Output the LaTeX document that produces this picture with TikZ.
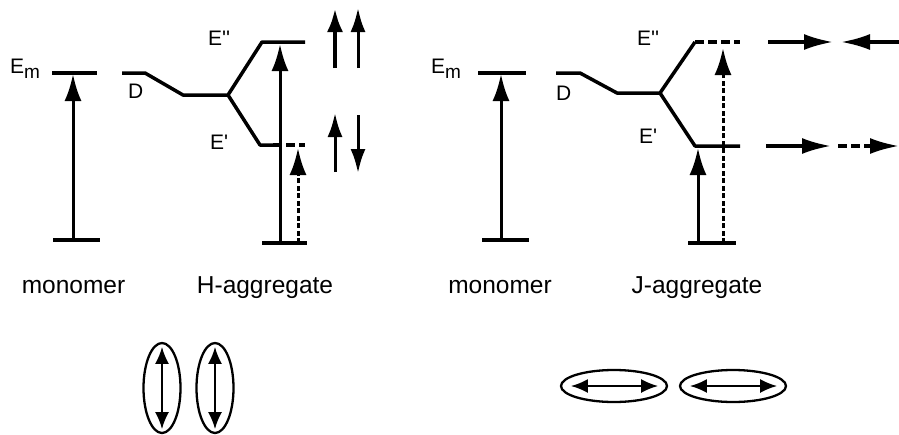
\documentclass[tikz,border=0pt]{standalone}
\usepackage{fontspec}
\setmainfont{Liberation Sans}
\usetikzlibrary{arrows.meta,shapes.geometric}
\begin{document}
\begin{tikzpicture}[x=1pt,y=-1pt,
  level/.style={line width=3.5pt},
  splitline/.style={line width=3.5pt,line join=round},
  dlevel/.style={line width=3.5pt,dash pattern=on 9pt off 4pt},
  trans/.style={line width=3pt,-{Latex[length=27pt,width=17pt]}},
  dtrans/.style={trans,dash pattern=on 5pt off 2.5pt},
  spinthick/.style={line width=4.5pt,-{Latex[length=24pt,width=16pt]}},
  spinthin/.style={line width=3pt,-{Latex[length=24pt,width=15pt]}},
  harrow/.style={line width=3.2pt,-{Latex[length=29pt,width=16pt]}},
  dharrow/.style={harrow,dash pattern=on 9pt off 4pt},
  lbl/.style={inner sep=0pt,anchor=base west,font=\fontsize{21}{21}\selectfont},
  caption/.style={inner sep=0pt,anchor=base,font=\fontsize{24.5}{24.5}\selectfont},
  dipole/.style={draw,ellipse,line width=2.3pt,inner sep=0pt},
  dip/.style={line width=2.2pt,{Latex[length=17pt,width=14pt]}-{Latex[length=17pt,width=14pt]}}
]
\useasboundingbox (0,0) rectangle (899,434);

% ---------------- H panel -----------------
\coordinate (mA1) at (52,73);  \coordinate (mA2) at (97,73);
\coordinate (gA1) at (53,240); \coordinate (gA2) at (100,240);
\coordinate (aA0) at (73,240); \coordinate (aA1) at (73,74);
\draw[level] (mA1) -- (mA2);
\draw[level] (gA1) -- (gA2);
\draw[trans] (aA0) -- (aA1);
\node[lbl] (EmA) at (10,73) {E\raisebox{-5pt}{\fontsize{19}{19}\selectfont m}};
\node[lbl] (DA) at (128,98) {D};
\coordinate (dA0) at (122,73); \coordinate (dA1) at (145,73);
\coordinate (dA2) at (183,95); \coordinate (dA3) at (228,95);
\coordinate (uA1) at (262,42); \coordinate (uA2) at (305,42);
\coordinate (lA1) at (260,145); \coordinate (lA2) at (273,145); \coordinate (lA3) at (305,145);
\draw[splitline] (dA0) -- (dA1) -- (dA2) -- (dA3) -- (uA1) -- (uA2);
\draw[splitline] (dA3) -- (lA1) -- (lA2);
\draw[dlevel] (lA2) -- (lA3);
\node[lbl] (EppA) at (208,45) {E\textquotesingle\textquotesingle};
\node[lbl] (EpA) at (210,149) {E\textquotesingle};
\coordinate (hg1) at (262,243); \coordinate (hg2) at (307,243);
\draw[level] (hg1) -- (hg2);
\coordinate (hs0) at (280,243); \coordinate (hs1) at (280,44);
\coordinate (hd0) at (298,243); \coordinate (hd1) at (298,148);
\draw[trans] (hs0) -- (hs1);
\draw[dtrans] (hd0) -- (hd1);
\coordinate (s1a) at (335,68);  \coordinate (s1b) at (335,8);
\coordinate (s2a) at (358,68);  \coordinate (s2b) at (358,8);
\coordinate (s3a) at (335,172); \coordinate (s3b) at (335,113);
\coordinate (s4a) at (358,115); \coordinate (s4b) at (358,173);
\draw[spinthick] (s1a) -- (s1b);
\draw[spinthin] (s2a) -- (s2b);
\draw[spinthin] (s3a) -- (s3b);
\draw[spinthin] (s4a) -- (s4b);
\node[caption] (monA) at (73.5,293) {monomer};
\node[caption] (Hagg) at (265,293) {H-aggregate};
\node[dipole,minimum width=37pt,minimum height=90pt] (h1) at (162,388) {};
\node[dipole,minimum width=37pt,minimum height=90pt] (h2) at (215,388) {};
\draw[dip] ([yshift=-5pt]h1.north) -- ([yshift=5pt]h1.south);
\draw[dip] ([yshift=-5pt]h2.north) -- ([yshift=5pt]h2.south);

% ---------------- J panel -----------------
\coordinate (mB1) at (478,73);  \coordinate (mB2) at (526,73);
\coordinate (gB1) at (482,240); \coordinate (gB2) at (529,240);
\coordinate (aB0) at (501,240); \coordinate (aB1) at (501,74);
\draw[level] (mB1) -- (mB2);
\draw[level] (gB1) -- (gB2);
\draw[trans] (aB0) -- (aB1);
\node[lbl] (EmB) at (431,73) {E\raisebox{-5pt}{\fontsize{19}{19}\selectfont m}};
\node[lbl] (DB) at (556,100) {D};
\coordinate (dB0) at (556,73); \coordinate (dB1) at (580,73);
\coordinate (dB2) at (617,93); \coordinate (dB3) at (660,93);
\coordinate (uB1) at (695,42); \coordinate (uB2) at (740,42);
\coordinate (lB1) at (695,146); \coordinate (lB2) at (740,146);
\draw[splitline] (dB0) -- (dB1) -- (dB2) -- (dB3) -- (uB1);
\draw[splitline] (dB3) -- (lB1) -- (lB2);
\draw[dlevel] (uB1) -- (uB2);
\node[lbl] (EppB) at (637,45) {E\textquotesingle\textquotesingle};
\node[lbl] (EpB) at (639,143) {E\textquotesingle};
\coordinate (jg1) at (688,243); \coordinate (jg2) at (736,243);
\draw[level] (jg1) -- (jg2);
\coordinate (js0) at (698,243); \coordinate (js1) at (698,148);
\coordinate (jd0) at (723,243); \coordinate (jd1) at (723,48);
\draw[trans] (js0) -- (js1);
\draw[dtrans] (jd0) -- (jd1);
\coordinate (t1a) at (768,42);  \coordinate (t1b) at (833,42);
\coordinate (t2a) at (899,42);  \coordinate (t2b) at (841,42);
\coordinate (b1a) at (766,146); \coordinate (b1b) at (831,146);
\coordinate (b2a) at (838,146); \coordinate (b2b) at (899,146);
\draw[harrow] (t1a) -- (t1b);
\draw[harrow] (t2a) -- (t2b);
\draw[harrow] (b1a) -- (b1b);
\draw[dharrow] (b2a) -- (b2b);
\node[caption] (monB) at (500,293) {monomer};
\node[caption] (Jagg) at (697,293) {J-aggregate};
\node[dipole,minimum width=106pt,minimum height=32pt] (j1) at (614,386) {};
\node[dipole,minimum width=106pt,minimum height=32pt] (j2) at (733,386) {};
\draw[dip] ([xshift=11pt]j1.west) -- ([xshift=-10pt]j1.east);
\draw[dip] ([xshift=11pt]j2.west) -- ([xshift=-10pt]j2.east);
\end{tikzpicture}
\end{document}
